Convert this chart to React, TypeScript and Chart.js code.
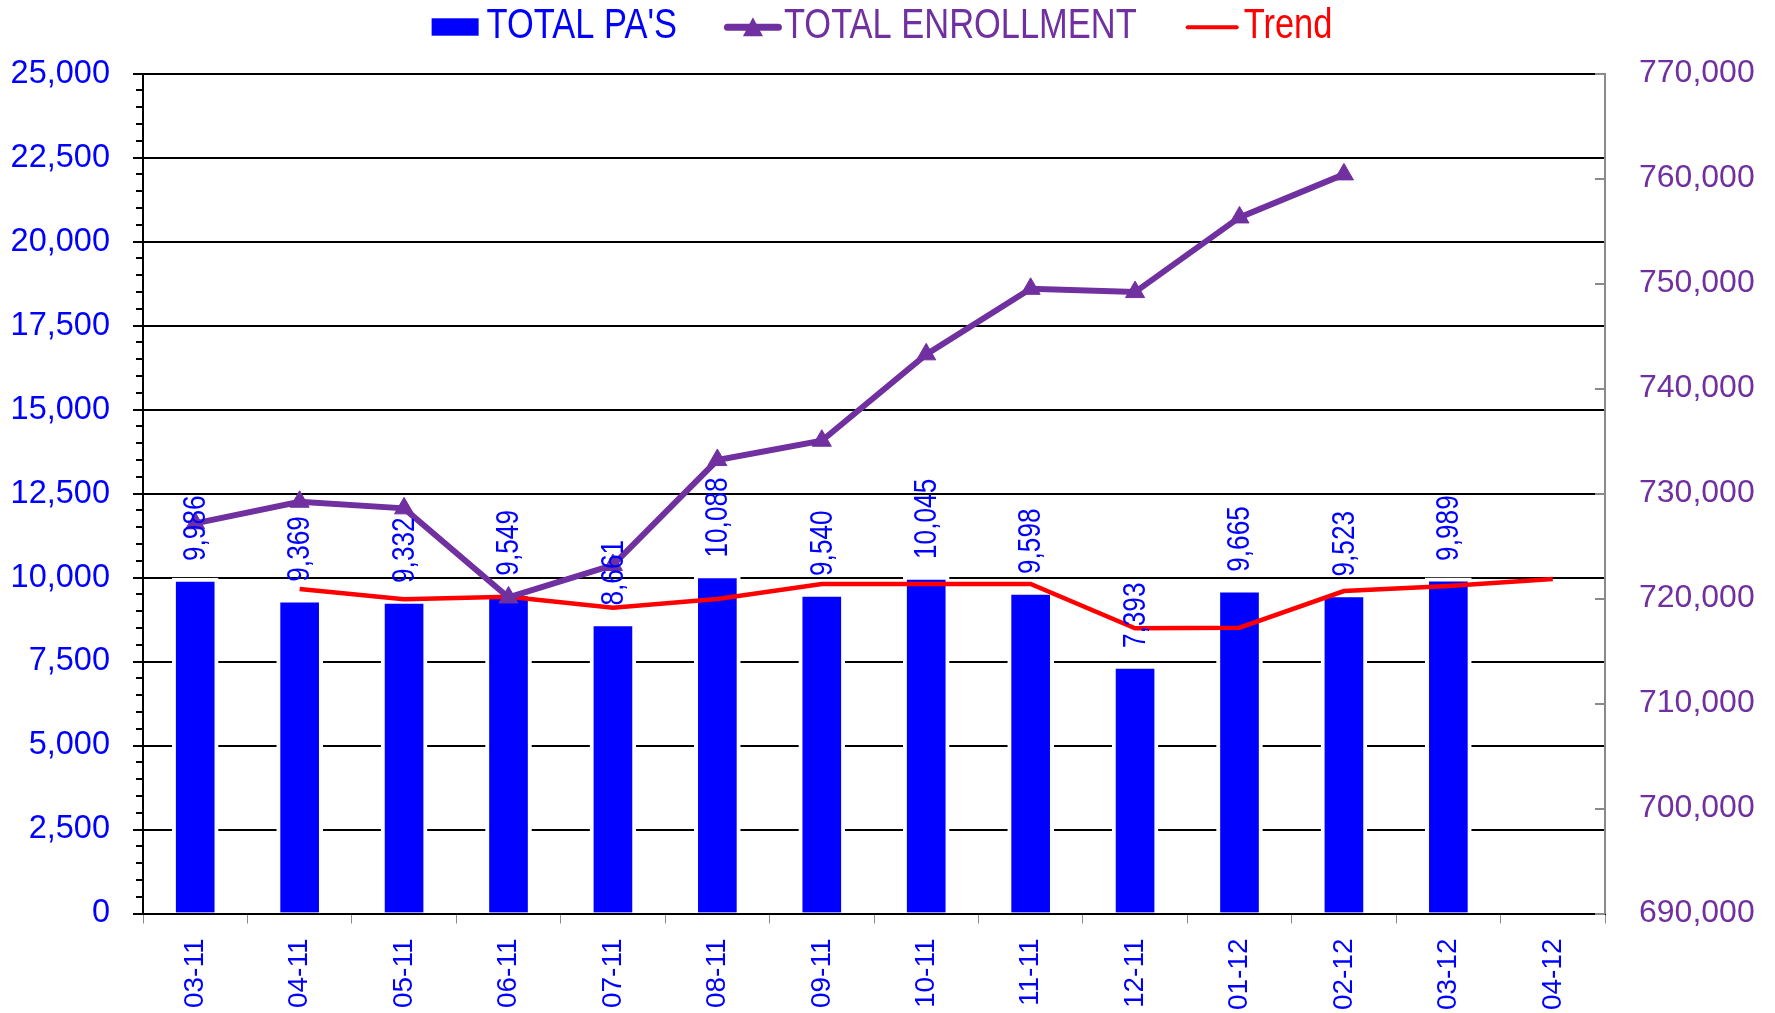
import React, { useEffect, useRef } from "react";
import { Chart, registerables } from "chart.js";

Chart.register(...registerables);

// ---------- data ----------
const months = ["03-11", "04-11", "05-11", "06-11", "07-11", "08-11", "09-11", "10-11", "11-11", "12-11", "01-12", "02-12", "03-12", "04-12"];
const totalPAs = [9986, 9369, 9332, 9549, 8661, 10088, 9540, 10045, 9598, 7393, 9665, 9523, 9989, null];
const totalEnrollment = [727160, 729220, 728590, 720100, 723190, 733190, 735030, 743260, 749500, 749190, 756300, 760400, null, null];
const trend = [null, 9658, 9351, 9429, 9101, 9360, 9807, 9807, 9807, 8488, 8506, 9598, 9747, 9955];
const leftAxisRange = [0, 25000, 2500];
const rightAxisRange = [690000, 770000, 10000];
const legendNames = ["TOTAL PA'S", "TOTAL ENROLLMENT", "Trend"];

const BLUE = "#0000FF";
const PURPLE = "#7030A0";
const RED = "#FF0000";

function hasFont(name: string): boolean {
  const c = document.createElement("canvas").getContext("2d");
  if (!c) return false;
  const s = "TOTAL ENROLLMENT mmwiil 0123";
  c.font = "40px monospace";
  const a = c.measureText(s).width;
  c.font = `40px "${name}", monospace`;
  const b = c.measureText(s).width;
  return Math.abs(a - b) > 0.5;
}

export default function App() {
  const ref = useRef<HTMLCanvasElement | null>(null);

  useEffect(() => {
    if (!ref.current) return;
    const narrow = hasFont("Liberation Sans Narrow");
    const narrowFam = narrow ? '"Liberation Sans Narrow", "Liberation Sans", sans-serif' : '"Liberation Sans", Arial, sans-serif';
    const sx = narrow ? 1 : 0.82;
    const wideFam = '"Liberation Sans", Arial, sans-serif';

    const legendPlugin = {
      id: "customLegend",
      afterDraw(chart: any) {
        const ctx = chart.ctx as CanvasRenderingContext2D;
        ctx.save();
        ctx.font = `42px ${narrowFam}`;
        ctx.textBaseline = "alphabetic";
        ctx.textAlign = "left";
        const w = legendNames.map((n) => ctx.measureText(n).width * sx);
        const total = 47 + 8 + w[0] + 47 + 58 + 2 + w[1] + 49 + 53 + 5 + w[2];
        let x = (chart.chartArea.left + chart.chartArea.right) / 2 + 8 - total / 2;
        const base = 38;
        const mid = 27.3;
        const drawText = (t: string, tx: number, col: string) => {
          ctx.save();
          ctx.translate(tx, base);
          ctx.scale(sx, 1);
          ctx.fillStyle = col;
          ctx.fillText(t, 0, 0);
          ctx.restore();
        };
        // bar item
        ctx.fillStyle = BLUE;
        ctx.fillRect(x, 18.3, 47, 17.4);
        x += 47 + 8;
        drawText(legendNames[0], x, BLUE);
        x += w[0] + 47;
        // enrollment item
        ctx.strokeStyle = PURPLE;
        ctx.lineWidth = 7;
        ctx.lineCap = "round";
        ctx.beginPath();
        ctx.moveTo(x + 3.5, mid);
        ctx.lineTo(x + 54.5, mid);
        ctx.stroke();
        ctx.fillStyle = PURPLE;
        ctx.beginPath();
        ctx.moveTo(x + 29, mid - 10);
        ctx.lineTo(x + 39, mid + 9);
        ctx.lineTo(x + 19, mid + 9);
        ctx.closePath();
        ctx.fill();
        x += 58 + 2;
        drawText(legendNames[1], x, PURPLE);
        x += w[1] + 49;
        // trend item
        ctx.strokeStyle = RED;
        ctx.lineWidth = 4;
        ctx.lineCap = "round";
        ctx.beginPath();
        ctx.moveTo(x + 2, mid);
        ctx.lineTo(x + 51, mid);
        ctx.stroke();
        x += 53 + 5;
        drawText(legendNames[2], x, RED);
        ctx.restore();
      },
    };

    const ticksPlugin = {
      id: "extraTicks",
      afterDraw(chart: any) {
        const ctx = chart.ctx as CanvasRenderingContext2D;
        const y = chart.scales.y;
        const y1 = chart.scales.y1;
        const { left, right } = chart.chartArea;
        ctx.save();
        ctx.strokeStyle = "#000";
        ctx.lineWidth = 2;
        for (let v = leftAxisRange[0]; v <= leftAxisRange[1]; v += 500) {
          if (v % leftAxisRange[2] === 0) continue;
          const py = Math.round(y.getPixelForValue(v));
          ctx.beginPath();
          ctx.moveTo(left - 7, py);
          ctx.lineTo(left, py);
          ctx.stroke();
        }
        ctx.strokeStyle = "#8a8a8a";
        for (let v = rightAxisRange[0]; v <= rightAxisRange[1]; v += rightAxisRange[2]) {
          const py = Math.round(y1.getPixelForValue(v));
          ctx.beginPath();
          ctx.moveTo(right - 10, py);
          ctx.lineTo(right, py);
          ctx.stroke();
        }
        ctx.restore();
      },
    };

    const labelPlugin = {
      id: "barValueLabels",
      afterDatasetsDraw(chart: any) {
        const ctx = chart.ctx as CanvasRenderingContext2D;
        const meta = chart.getDatasetMeta(0);
        ctx.save();
        ctx.font = `32px ${narrowFam}`;
        ctx.fillStyle = BLUE;
        ctx.textAlign = "left";
        ctx.textBaseline = "middle";
        meta.data.forEach((bar: any, i: number) => {
          const v = totalPAs[i];
          if (v == null) return;
          const yTop = chart.scales.y.getPixelForValue(v);
          ctx.save();
          ctx.translate(bar.x + 1, yTop - 17);
          ctx.rotate(-Math.PI / 2);
          ctx.scale(sx, 1);
          ctx.fillText(v.toLocaleString("en-US"), 0, 0);
          ctx.restore();
        });
        ctx.restore();
      },
    };

    const chart = new Chart(ref.current, {
      type: "bar",
      data: {
        labels: months,
        datasets: [
          {
            type: "bar",
            label: legendNames[0],
            data: totalPAs,
            backgroundColor: BLUE,
            borderColor: "#FFFFFF",
            borderWidth: 4,
            barThickness: 46,
            yAxisID: "y",
            order: 2,
          },
          {
            type: "line",
            label: legendNames[1],
            data: totalEnrollment,
            borderColor: PURPLE,
            backgroundColor: PURPLE,
            borderWidth: 6,
            pointStyle: "triangle",
            pointRadius: 11,
            pointBorderWidth: 1,
            pointBackgroundColor: PURPLE,
            pointBorderColor: PURPLE,
            tension: 0,
            spanGaps: false,
            yAxisID: "y1",
            order: 0,
          },
          {
            type: "line",
            label: legendNames[2],
            data: trend,
            borderColor: RED,
            backgroundColor: RED,
            borderWidth: 4.5,
            pointRadius: 0,
            tension: 0,
            yAxisID: "y",
            order: 1,
          },
        ] as any,
      },
      options: {
        responsive: false,
        animation: false,
        devicePixelRatio: 1,
        layout: { padding: { top: 73.6, left: 0, right: 0, bottom: 0 } },
        plugins: {
          legend: { display: false },
          tooltip: { enabled: false },
        },
        scales: {
          x: {
            offset: true,
            grid: {
              offset: true,
              drawOnChartArea: false,
              drawTicks: true,
              tickLength: 10,
              color: "#8a8a8a",
              lineWidth: 1,
            },
            border: { color: "#000", width: 2 },
            ticks: {
              autoSkip: false,
              minRotation: 90,
              maxRotation: 90,
              padding: 15,
              color: BLUE,
              font: { family: narrowFam, size: narrow ? 33 : 28 },
            },
            afterFit(scale: any) {
              scale.height = 99.5;
            },
          },
          y: {
            position: "left",
            min: leftAxisRange[0],
            max: leftAxisRange[1],
            grid: {
              color: "#000",
              lineWidth: 2,
              tickLength: 10,
              drawTicks: true,
            },
            border: { color: "#000", width: 2 },
            ticks: {
              stepSize: leftAxisRange[2],
              padding: 23,
              color: BLUE,
              font: { family: wideFam, size: 32.5 },
            },
            afterFit(scale: any) {
              scale.width = 143;
            },
          },
          y1: {
            position: "right",
            min: rightAxisRange[0],
            max: rightAxisRange[1],
            grid: { drawOnChartArea: false, drawTicks: false },
            border: { color: "#8a8a8a", width: 2 },
            ticks: {
              stepSize: rightAxisRange[2],
              padding: 34,
              color: PURPLE,
              font: { family: wideFam, size: 32 },
            },
            afterFit(scale: any) {
              scale.width = 170;
            },
          },
        },
      } as any,
      plugins: [ticksPlugin, labelPlugin, legendPlugin],
    });

    return () => chart.destroy();
  }, []);

  return (
    <div style={{ position: "fixed", left: 0, top: 0, width: 1775, height: 1013, background: "#fff" }}>
      <canvas ref={ref} width={1775} height={1013} style={{ width: 1775, height: 1013, display: "block" }} />
    </div>
  );
}
